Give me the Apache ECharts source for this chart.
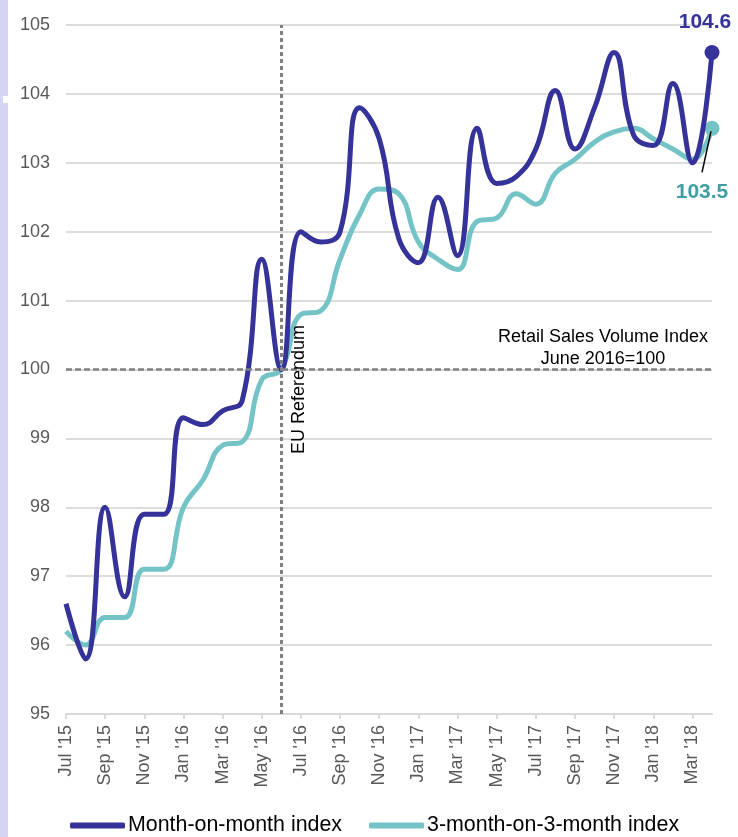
<!DOCTYPE html>
<html>
<head>
<meta charset="utf-8">
<title>Retail Sales Volume Index</title>
<script src="https://cdn.jsdelivr.net/npm/echarts@6/dist/echarts.min.js"></script>
<style>
    html, body { margin: 0; padding: 0; background: #fff; }
    #main { width: 738px; height: 837px; }
</style>
</head>
<body>
<div id="main"></div>
<script>
// ------------------------------ data -----------------------------------------
var months = ["Jul '15", "Aug '15", "Sep '15", "Oct '15", "Nov '15", "Dec '15",
    "Jan '16", "Feb '16", "Mar '16", "Apr '16", "May '16", "Jun '16",
    "Jul '16", "Aug '16", "Sep '16", "Oct '16", "Nov '16", "Dec '16",
    "Jan '17", "Feb '17", "Mar '17", "Apr '17", "May '17", "Jun '17",
    "Jul '17", "Aug '17", "Sep '17", "Oct '17", "Nov '17", "Dec '17",
    "Jan '18", "Feb '18", "Mar '18", "Apr '18"];

var monthOnMonth = [96.6, 95.8, 98.0, 96.7, 97.9, 97.9,
    99.3, 99.2, 99.4, 99.55, 101.6, 100.0,
    102.0, 101.85, 102.0, 103.8, 103.35, 101.9,
    101.55, 102.5, 101.65, 103.5, 102.7, 102.8,
    103.2, 104.05, 103.2, 103.8, 104.6, 103.4,
    103.25, 104.15, 103.0, 104.6];

var threeOnThree = [96.2, 96.0, 96.4, 96.4, 97.1, 97.1,
    98.0, 98.4, 98.9, 98.95, 99.85, 100.0,
    100.8, 100.85, 101.6, 102.25, 102.62, 102.55,
    101.85, 101.6, 101.45, 102.15, 102.2, 102.55,
    102.4, 102.85, 103.05, 103.3, 103.45, 103.5,
    103.35, 103.2, 103.05, 103.5];

var seriesNames = ['Month-on-month index', '3-month-on-3-month index'];
var referendumMonth = "Jun '16";
var baseValue = 100;
var noteText = 'Retail Sales Volume Index\nJune 2016=100';

var navy = '#35339a';
var teal = '#74c3c6';
var font = 'Arial, "Liberation Sans", sans-serif';
var lastIdx = months.length - 1;

// the last point gets a dot and a value label
function withEndPoint(values, label) {
    var out = values.slice(0, values.length - 1);
    out.push({ value: values[values.length - 1], label: label });
    return out;
}

function endDotSize(val, params) {
    return params.dataIndex === lastIdx ? 15 : 0;
}

var chart = echarts.init(document.getElementById('main'));
var option = {
    animation: false,
    backgroundColor: '#fff',
    textStyle: { fontFamily: font },
    grid: { left: 66, right: 26, top: 25, bottom: 123 },
    legend: {
        left: 70,
        top: 815,
        padding: 0,
        itemWidth: 55,
        itemHeight: 6,
        itemGap: 27,
        icon: 'roundRect',
        textStyle: { fontSize: 21.4, color: '#000', fontFamily: font, padding: [0, 0, 0, -2] },
        data: seriesNames
    },
    xAxis: {
        type: 'category',
        data: months,
        boundaryGap: false,
        axisLine: { lineStyle: { color: '#d9d9d9', width: 2 } },
        axisTick: { interval: 1, length: 5, lineStyle: { color: '#d9d9d9', width: 2 } },
        axisLabel: { interval: 1, rotate: 90, margin: 11, fontSize: 18, color: '#595959', fontFamily: font },
        splitLine: { show: false }
    },
    yAxis: {
        type: 'value',
        min: 95,
        max: 105,
        interval: 1,
        axisLine: { show: false },
        axisTick: { show: false },
        axisLabel: { fontSize: 18, color: '#595959', margin: 16, fontFamily: font },
        splitLine: { lineStyle: { color: '#dcdcdc', width: 2 } }
    },
    series: [
        {
            name: seriesNames[1],
            type: 'line',
            smooth: 0.45,
            symbol: 'circle',
            showSymbol: true,
            showAllSymbol: true,
            symbolSize: endDotSize,
            color: teal,
            lineStyle: { width: 5, color: teal },
            itemStyle: { color: teal },
            data: withEndPoint(threeOnThree, {
                show: true, position: 'bottom', distance: 46, offset: [-10, 0],
                fontSize: 21, fontWeight: 'bold', color: '#3f9fa2', fontFamily: font
            }),
            z: 3
        },
        {
            name: seriesNames[0],
            type: 'line',
            smooth: 0.45,
            symbol: 'circle',
            showSymbol: true,
            showAllSymbol: true,
            symbolSize: endDotSize,
            color: navy,
            lineStyle: { width: 5, color: navy },
            itemStyle: { color: navy },
            data: withEndPoint(monthOnMonth, {
                show: true, position: 'top', distance: 12, offset: [-7, 0],
                fontSize: 21, fontWeight: 'bold', color: navy, fontFamily: font
            }),
            markLine: {
                silent: true,
                symbol: ['none', 'none'],
                label: { show: false },
                data: [
                    { yAxis: baseValue, lineStyle: { color: '#808080', width: 2.5, type: [6, 3] } },
                    { xAxis: referendumMonth, lineStyle: { color: '#808080', width: 3, type: [4, 3] } }
                ]
            },
            z: 4
        }
    ]
};

option && chart.setOption(option);

// annotations placed from the axes
var refPt = chart.convertToPixel({ gridIndex: 0 }, [referendumMonth, baseValue]);
var lastTeal = chart.convertToPixel({ gridIndex: 0 }, [months[lastIdx], threeOnThree[lastIdx]]);
var basePt = chart.convertToPixel({ gridIndex: 0 }, [months[lastIdx], baseValue]);

chart.setOption({
    graphic: [
        { type: 'rect', left: 0, top: 0, shape: { width: 8, height: 837 }, style: { fill: '#d3d5f2' }, silent: true },
        { type: 'rect', left: 3, top: 96, shape: { width: 5, height: 7 }, style: { fill: '#fff' }, silent: true },
        {
            type: 'text',
            x: refPt[0] + 18,
            y: refPt[1] + 20,
            rotation: Math.PI / 2,
            style: { text: 'EU Referendum', font: '18px ' + font, fill: '#000', textAlign: 'center', textVerticalAlign: 'middle' },
            z: 10
        },
        {
            type: 'text',
            x: basePt[0] - 109,
            y: basePt[1] - 43,
            style: { text: noteText, font: '18px ' + font, fill: '#000', textAlign: 'center', lineHeight: 22 },
            z: 10
        },
        {
            type: 'line',
            shape: { x1: lastTeal[0] - 10, y1: lastTeal[1] + 44, x2: lastTeal[0] - 1, y2: lastTeal[1] + 3 },
            style: { stroke: '#000', lineWidth: 1.5 },
            z: 10
        }
    ]
});
</script>
</body>
</html>
